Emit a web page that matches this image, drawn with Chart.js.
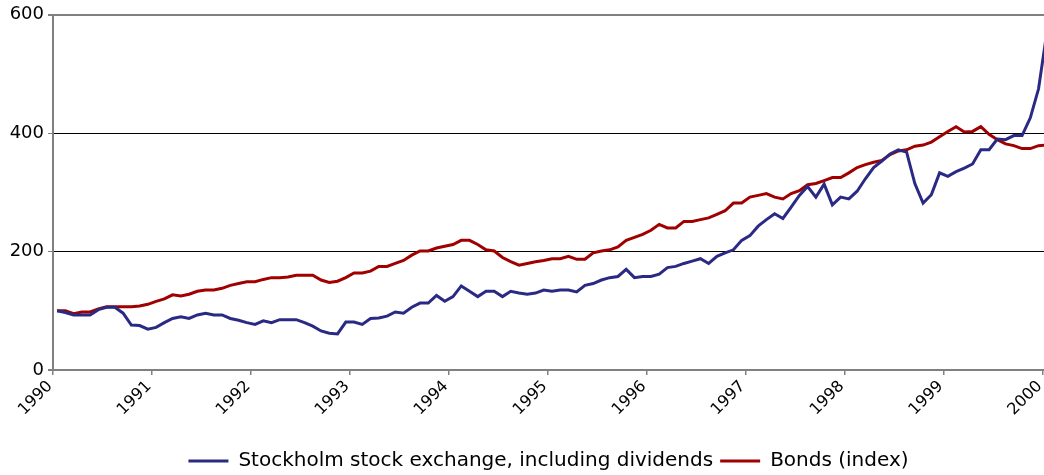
<!DOCTYPE html>
<html lang="en">
<head>
    <meta charset="UTF-8">
    <title>Stockholm stock exchange vs bonds</title>
    <script src="https://cdn.jsdelivr.net/npm/chart.js@4.4.1/dist/chart.umd.min.js"></script>
    <style>
        html, body { margin: 0; padding: 0; background: #fff; }
        canvas { display: block; }
    </style>
</head>
<body>
    <canvas id="myChart" width="1044" height="475"></canvas>

    <script>
        // monthly index values, Jan 1990 = 100
        var stockIndex = [
            100, 97, 93, 93, 93, 102, 106, 106, 96, 76, 75, 69,
            72, 80, 87, 90, 87, 93, 96, 93, 93, 87, 84, 80,
            77, 83, 80, 85, 85, 85, 80, 74, 66, 62, 61, 81,
            81, 77, 87, 88, 91, 98, 96, 106, 113, 113, 126, 116,
            124, 142, 133, 124, 133, 133, 124, 133, 130, 128, 130, 135,
            133, 135, 135, 132, 143, 146, 152, 156, 158, 170, 156, 158,
            158, 162, 173, 175, 180, 184, 188, 180, 192, 198, 203, 219,
            227, 243, 254, 264, 256, 275, 295, 310, 292, 314, 279, 292,
            289, 302, 323, 342, 353, 365, 372, 368, 315, 282, 296, 333,
            327, 335, 341, 348, 372, 372, 390, 389, 396, 396, 426, 475,
            570
        ];
        var bondIndex = [
            100, 100, 95, 98, 98, 103, 107, 107, 107, 107, 108, 111,
            116, 120, 127, 125, 128, 133, 135, 135, 138, 143, 146, 149,
            149, 153, 156, 156, 157, 160, 160, 160, 152, 148, 150, 156,
            164, 164, 167, 175, 175, 180, 185, 194, 201, 201, 206, 209,
            212, 219, 219, 212, 203, 201, 190, 183, 177, 180, 183, 185,
            188, 188, 192, 187, 187, 198, 201, 203, 208, 219, 224, 229,
            236, 246, 240, 240, 251, 251, 254, 257, 263, 269, 282, 282,
            292, 295, 298, 292, 289, 298, 303, 313, 315, 320, 325, 325,
            333, 342, 347, 351, 354, 364, 370, 372, 378, 380, 385, 394,
            403, 411, 402, 403, 411, 398, 389, 382, 379, 374, 374, 379,
            380
        ];
        var yearLabels = ['1990', '1991', '1992', '1993', '1994', '1995',
                          '1996', '1997', '1998', '1999', '2000'];
        var seriesNames = ['Stockholm stock exchange, including dividends', 'Bonds (index)'];

        var yTickFont = { family: "'DejaVu Sans', Verdana, sans-serif", size: 18 };
        var xTickFont = { family: "'DejaVu Sans', Verdana, sans-serif", size: 16 };
        var legendFont = { family: "'DejaVu Sans', Verdana, sans-serif", size: 20 };

        // each month sits in the middle of its slot
        function toPoints(values) {
            return values.map(function (v, i) { return { x: i + 0.5, y: v }; });
        }

        var ctx = document.getElementById('myChart').getContext('2d');
        var myChart = new Chart(ctx, {
            type: 'line',
            data: {
                datasets: [
                    {
                        label: seriesNames[0],
                        data: toPoints(stockIndex),
                        borderColor: '#2A2A84',
                        backgroundColor: '#2A2A84',
                        borderWidth: 3,
                        pointRadius: 0,
                        tension: 0
                    },
                    {
                        label: seriesNames[1],
                        data: toPoints(bondIndex),
                        borderColor: '#A00000',
                        backgroundColor: '#A00000',
                        borderWidth: 3,
                        pointRadius: 0,
                        tension: 0
                    }
                ]
            },
            options: {
                responsive: false,
                animation: false,
                devicePixelRatio: 1,
                layout: { padding: { top: 14, right: 0, left: 0, bottom: -6 } },
                scales: {
                    x: {
                        type: 'linear',
                        min: 0,
                        max: 120.16,
                        afterBuildTicks: function (scale) {
                            scale.ticks = yearLabels.map(function (l, i) { return { value: i * 12 }; });
                        },
                        afterFit: function (scale) {
                            scale.paddingRight = 0;
                            scale.height = 74;
                        },
                        ticks: {
                            minRotation: 45,
                            maxRotation: 45,
                            autoSkip: false,
                            padding: 2,
                            labelOffset: -3,
                            color: '#000',
                            font: xTickFont,
                            callback: function (value) {
                                return yearLabels[Math.round(value / 12)];
                            }
                        },
                        grid: {
                            drawOnChartArea: false,
                            tickLength: 5,
                            color: '#808080',
                            lineWidth: 1.5
                        },
                        border: { color: '#808080', width: 2 }
                    },
                    y: {
                        min: 0,
                        max: 600,
                        afterFit: function (scale) {
                            scale.width = 53;
                        },
                        ticks: {
                            stepSize: 200,
                            padding: 4,
                            color: '#000',
                            font: yTickFont
                        },
                        grid: {
                            tickLength: 5,
                            tickColor: '#808080',
                            color: function (c) {
                                return (c.tick.value === 200 || c.tick.value === 400) ? '#000' : '#808080';
                            },
                            lineWidth: function (c) {
                                return (c.tick.value === 200 || c.tick.value === 400) ? 1 : 2;
                            }
                        },
                        border: { color: '#808080', width: 2 }
                    }
                },
                plugins: {
                    tooltip: { enabled: false },
                    legend: {
                        position: 'bottom',
                        fullSize: false,
                        labels: {
                            usePointStyle: true,
                            pointStyle: 'line',
                            pointStyleWidth: 40,
                            padding: 7,
                            color: '#000',
                            font: legendFont
                        }
                    }
                }
            }
        });
    </script>
</body>
</html>
